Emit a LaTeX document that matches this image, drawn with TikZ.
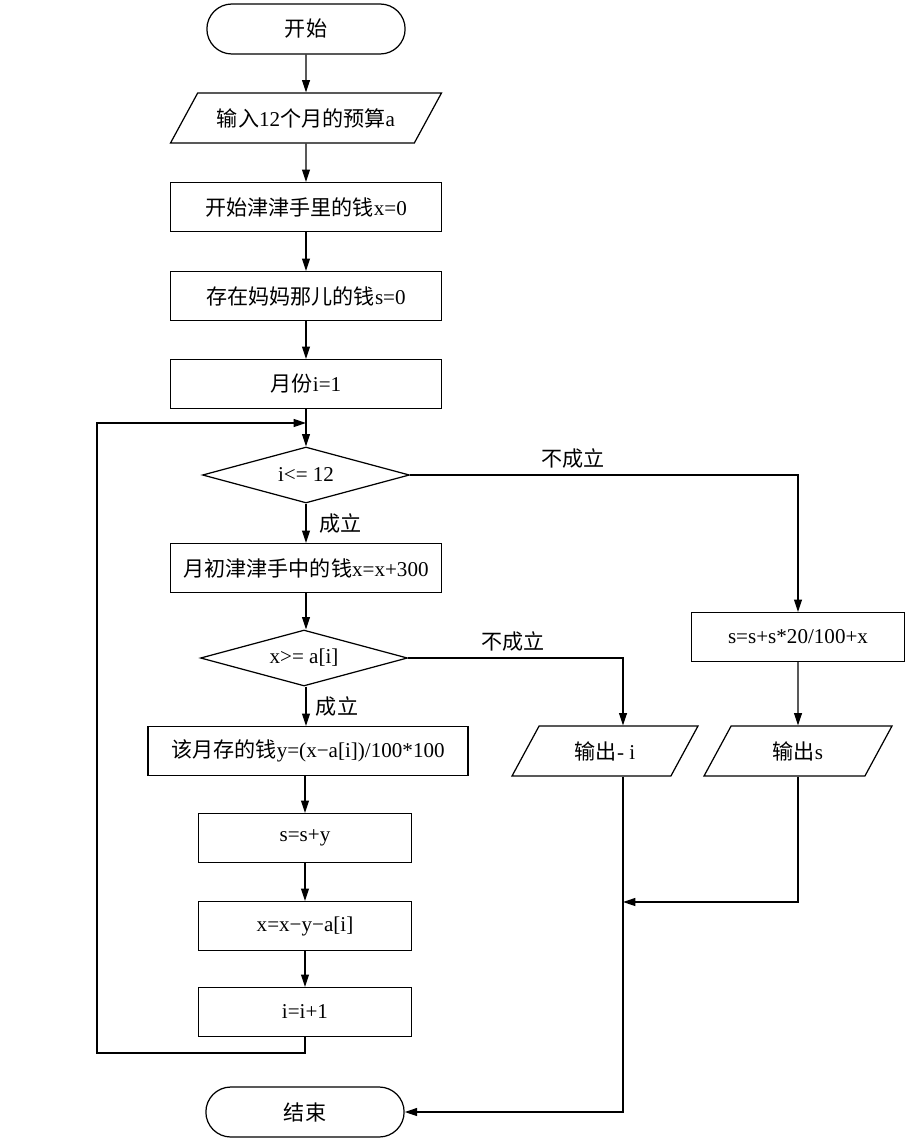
\documentclass[tikz,border=0pt]{standalone}
\usepackage{fontspec}
\setmainfont{Liberation Serif}
\newfontfamily\zh{Noto Sans CJK SC}
\usetikzlibrary{arrows.meta, positioning, shapes.geometric, shapes.misc}

\begin{document}
\begin{tikzpicture}[x=0.02cm, y=-0.02cm, line width=0.7pt,
    font=\fontsize{12}{14}\selectfont,
    term/.style={rounded rectangle, draw, minimum width=4.2cm, minimum height=1cm},
    proc/.style={rectangle, draw, minimum width=5.42cm, minimum height=0.98cm},
    io/.style={trapezium, trapezium left angle=49, trapezium right angle=131,
      trapezium stretches body, draw, minimum height=1cm},
    cond/.style={diamond, draw, aspect=3.7, minimum width=4.14cm, minimum height=1.12cm, inner sep=1pt},
    arr/.style={-{Triangle[length=7pt,width=4.5pt]}}]
  \useasboundingbox (0,0) rectangle (916,1138);

  % main column
  \node[term] (start) at (306,29) {\zh 开始};
  \node[io, minimum width=5.42cm] (in) at (306,118) {{\zh 输入}12{\zh 个月的预算}a};
  \node[proc] (x0) at (306,207) {{\zh 开始津津手里的钱}x=0};
  \node[proc] (s0) at (306,296) {{\zh 存在妈妈那儿的钱}s=0};
  \node[proc] (i1) at (306,384) {{\zh 月份}i=1};
  \node[cond] (c1) at (306,475) {i<= 12};
  \node[proc] (add) at (306,568) {{\zh 月初津津手中的钱}x=x+300};
  \node[cond] (c2) at (304,658) {x>= a[i]};
  \node[proc, minimum width=6.4cm] (save) at (308,751) {{\zh 该月存的钱}y=(x−a[i])/100*100};
  \node[proc, minimum width=4.26cm] (sy) at (305,838) {s=s+y};
  \node[proc, minimum width=4.26cm] (xy) at (305,926) {x=x−y−a[i]};
  \node[proc, minimum width=4.26cm] (inc) at (305,1012) {i=i+1};
  \node[term] (end) at (305,1112) {\zh 结束};

  % right branches
  \node[proc, minimum width=4.26cm] (fin) at (798,637) {s=s+s*20/100+x};
  \node[io, minimum width=3.72cm] (outi) at (605,751) {{\zh 输出}- i};
  \node[io, minimum width=3.76cm] (outs) at (798,751) {{\zh 输出}s};

  \coordinate (lb) at (97,1053);
  \coordinate (lt) at (97,423);
  \coordinate (lj) at (306,423);
  \coordinate (mg) at (623,902);

  \draw[arr] (start) -- (in);
  \draw[arr] (in) -- (x0);
  \draw[arr] (x0) -- (s0);
  \draw[arr] (s0) -- (i1);
  \draw[arr] (i1) -- (c1);
  \draw[arr] (c1) -- node[right, xshift=4pt] {\zh 成立} (add);
  \draw[arr] (add) -- (c2.north -| add);
  \draw[arr] (c2.south -| add) -- node[right, xshift=2pt] {\zh 成立} (save.north -| add);
  \draw[arr] (save.south -| sy) -- (sy);
  \draw[arr] (sy) -- (xy);
  \draw[arr] (xy) -- (inc);
  \draw[arr] (inc.south) |- (lb) -- (lt) -- (lj);

  \draw[arr] (c1.east) -| node[pos=0.21, above] {\zh 不成立} (fin.north);
  \draw[arr] (fin) -- (outs);
  \draw[arr] (c2.east) -| node[pos=0.245, above] {\zh 不成立} ([xshift=0.36cm]outi.north);
  \draw[arr] (outs.south) |- (mg);
  \draw[arr] ([xshift=0.36cm]outi.south) |- (end.east);
\end{tikzpicture}
\end{document}
